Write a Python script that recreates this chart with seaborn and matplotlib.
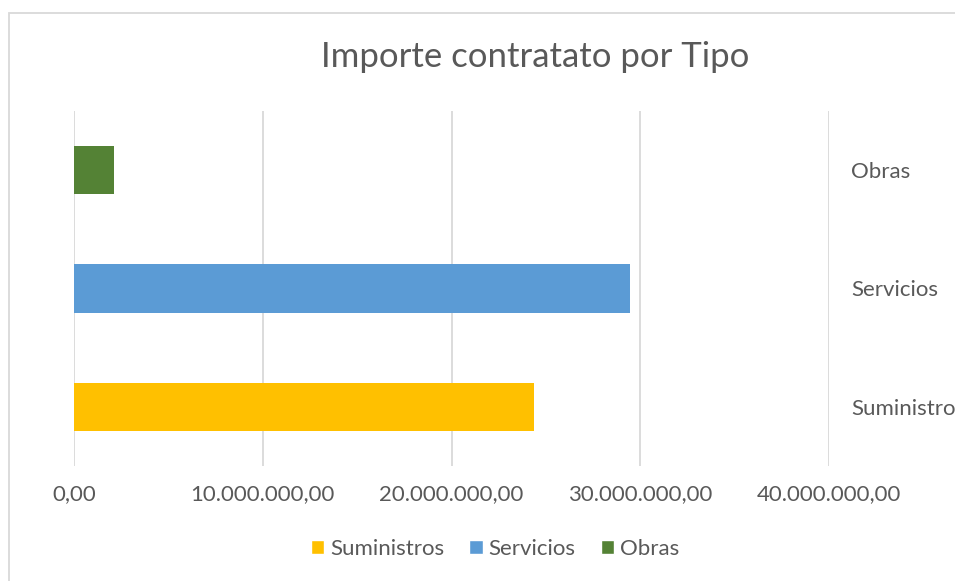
import matplotlib
matplotlib.use('Agg')
import matplotlib.pyplot as plt
import matplotlib.ticker as mticker
from matplotlib.patches import Rectangle, Patch
import seaborn as sns
import pandas as pd

# ------------------------ data ------------------------ #
tipos = ['Obras', 'Servicios', 'Suministros']
importes = [2.12e6, 29.46e6, 24.37e6]
colores = ['#548235', '#5B9BD5', '#FFC000']
etiquetas_eje = ['Obras', 'Servicios', 'Suministro']
ticks = [0, 10e6, 20e6, 30e6, 40e6]

df = pd.DataFrame({'Tipo': tipos, 'Importe': importes})

sns.set_theme(style='white')
plt.rcParams['font.family'] = ['Lato', 'DejaVu Sans']
gris = '#595959'

fig = plt.figure(figsize=(9.55, 5.81), dpi=100)
ax = fig.add_axes([74 / 955, 1 - 466 / 581, (829 - 74) / 955, (466 - 111) / 581])

sns.barplot(data=df, x='Importe', y='Tipo', hue='Tipo', palette=colores,
            order=tipos, width=0.41, saturation=1, linewidth=0, legend=False,
            ax=ax, zorder=3)

ax.set_xlim(0, 40e6)
ax.set_ylim(2.5, -0.5)
ax.set_xticks(ticks)
ax.xaxis.set_major_formatter(mticker.FuncFormatter(
    lambda x, _: f"{x:,.2f}".replace(',', 'X').replace('.', ',').replace('X', '.')))
ax.grid(axis='x', color='#D9D9D9', linewidth=1.3, zorder=0)
for s in ax.spines.values():
    s.set_visible(False)

ax.set_xlabel('')
ax.set_ylabel('')
ax.yaxis.tick_right()
ax.set_yticks(range(len(tipos)))
ax.set_yticklabels(etiquetas_eje)
ax.tick_params(axis='y', length=0, pad=16, labelsize=16, labelcolor=gris)
ax.tick_params(axis='x', length=0, pad=13, labelsize=16, labelcolor=gris)

fig.text(535 / 955, 1 - 57 / 581, 'Importe contratato por Tipo', ha='center', va='center',
         fontsize=25, color=gris)

handles = [Patch(facecolor=c, label=t) for t, c in zip(tipos[::-1], colores[::-1])]
fig.legend(handles=handles, loc='center', bbox_to_anchor=(495 / 955, 1 - 549 / 581), ncol=3,
           frameon=False, fontsize=16, labelcolor=gris, handlelength=0.6, handleheight=0.6,
           handletextpad=0.25, columnspacing=1.15)

# borde del grafico
fig.patches.append(Rectangle((9 / 955, -0.1), 1.2, 1.1 - 13 / 581, transform=fig.transFigure,
                             fill=False, edgecolor='#D9D9D9', linewidth=1.3))

plt.savefig('out.png', dpi=100)
